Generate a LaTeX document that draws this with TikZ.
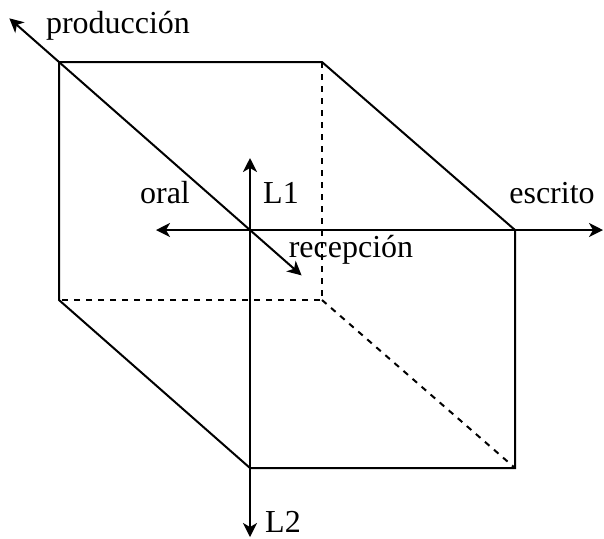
\documentclass[tikz,border=0pt]{standalone}
\usepackage{fontspec}
\setmainfont{Liberation Serif}
\usepackage{tikz}
\usetikzlibrary{arrows.meta, positioning, calc}

\begin{document}
\begin{tikzpicture}[
    x=0.5pt, y=-0.5pt,
    edge/.style={line width=1pt, line join=miter},
    hidden/.style={edge, dashed},
    axis/.style={line width=1pt, {Stealth[length=7pt,width=7pt,inset=2pt]}-{Stealth[length=7pt,width=7pt,inset=2pt]}},
    lbl/.style={font=\fontsize{16}{19}\selectfont, inner sep=0pt},
]
\useasboundingbox (0,0) rectangle (604,538);

% --- Back face ---
\coordinate (btl) at (59,62);
\coordinate (btr) at (322,62);
\coordinate (bbr) at (322,300);
\coordinate (bbl) at (59,300);

% --- Front face ---
\coordinate (ftl) at (250,230);
\coordinate (ftr) at (515,230);
\coordinate (fbr) at (515,468);
\coordinate (fbl) at (250,468);

% --- Axis ends ---
\coordinate (oralend) at (156,230);
\coordinate (escend) at (603,230);
\coordinate (lonetop) at (250,158);
\coordinate (ltwobot) at (250,537);
\coordinate (prodend) at ($(btl)!-0.26!(ftl)$);
\coordinate (recend) at ($(btl)!1.27!(ftl)$);

% --- Solid edges ---
\draw[edge] (bbl) -- (btl) -- (btr) -- (ftr) -- (fbr) -- (fbl) -- cycle;

% --- Hidden edges ---
\draw[hidden] (btr) -- (bbr) -- (bbl);
\draw[hidden] (bbr) -- (fbr);

% --- Axes ---
\draw[axis] (oralend) -- (escend);
\draw[axis] (lonetop) -- (ltwobot);
\draw[axis] (prodend) -- (recend);

% --- Labels ---
\node[lbl] (prod) at (118,26) {producción};
\node[lbl] (oral) at (165,193) {oral};
\node[lbl] (lone) at (281,193) {L1};
\node[lbl] (esc) at (552,193) {escrito};
\node[lbl] (rec) at (351,250) {recepción};
\node[lbl] (ltwo) at (283,522) {L2};

\end{tikzpicture}
\end{document}
